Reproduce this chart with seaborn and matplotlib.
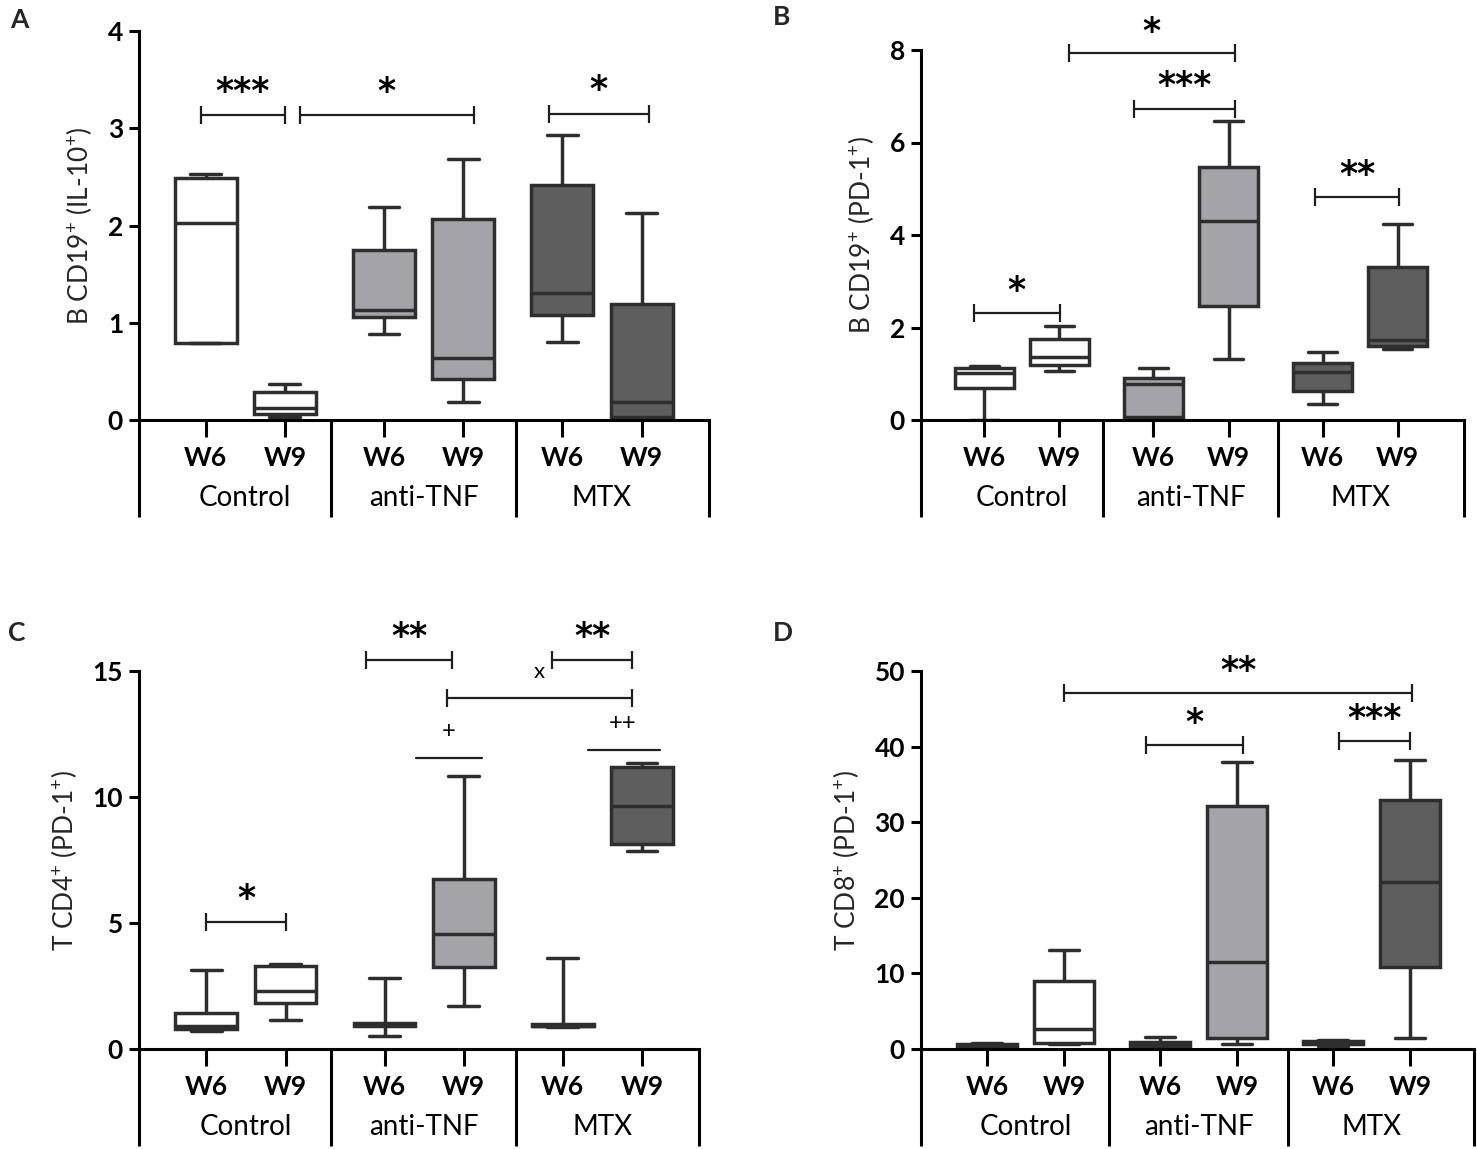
import numpy as np
import pandas as pd
import matplotlib
matplotlib.use("Agg")
import matplotlib.pyplot as plt
import matplotlib.transforms as mtransforms
import seaborn as sns

# ---------------- data (five-number summaries: min, Q1, median, Q3, max) -------------
groups = ["Control", "Control", "anti-TNF", "anti-TNF", "MTX", "MTX"]
weeks = ["W6", "W9", "W6", "W9", "W6", "W9"]
group_names = ["Control", "anti-TNF", "MTX"]

b_cd19_il10 = [
    [0.79, 0.79, 2.03, 2.49, 2.53],
    [0.035, 0.06, 0.12, 0.285, 0.37],
    [0.88, 1.06, 1.13, 1.75, 2.19],
    [0.18, 0.42, 0.64, 2.07, 2.68],
    [0.80, 1.08, 1.31, 2.42, 2.93],
    [0.01, 0.035, 0.19, 1.19, 2.125],
]
b_cd19_pd1 = [
    [0.0, 0.69, 1.02, 1.13, 1.17],
    [1.07, 1.19, 1.36, 1.75, 2.03],
    [0.02, 0.07, 0.77, 0.90, 1.13],
    [1.32, 2.47, 4.31, 5.46, 6.47],
    [0.35, 0.63, 1.03, 1.23, 1.47],
    [1.53, 1.61, 1.74, 3.31, 4.23],
]
t_cd4_pd1 = [
    [0.72, 0.80, 0.90, 1.42, 3.13],
    [1.14, 1.83, 2.32, 3.31, 3.39],
    [0.52, 0.92, 0.97, 1.02, 2.83],
    [1.72, 3.24, 4.55, 6.73, 10.84],
    [0.88, 0.90, 0.93, 0.98, 3.63],
    [7.86, 8.14, 9.63, 11.21, 11.35],
]
t_cd8_pd1 = [
    [0.05, 0.15, 0.35, 0.70, 0.80],
    [0.60, 0.83, 2.67, 8.96, 13.1],
    [0.05, 0.14, 0.50, 0.97, 1.65],
    [0.60, 1.50, 11.5, 32.2, 37.9],
    [0.45, 0.60, 0.80, 1.00, 1.15],
    [1.40, 10.9, 22.1, 32.9, 38.2],
]

panel_letters = ["A", "B", "C", "D"]
ylabels = ["B CD19$^{+}$ (IL-10$^{+}$)", "B CD19$^{+}$ (PD-1$^{+}$)",
           "T CD4$^{+}$ (PD-1$^{+}$)", "T CD8$^{+}$ (PD-1$^{+}$)"]
yticks_list = [[0, 1, 2, 3, 4], [0, 2, 4, 6, 8], [0, 5, 10, 15], [0, 10, 20, 30, 40, 50]]

# significance annotations: (x1, x2, y_bracket, label, y_label)
sig_A = [(-0.06, 1.0, 3.14, "***", 3.37), (1.19, 3.38, 3.14, "*", 3.37), (4.33, 5.59, 3.15, "*", 3.39)]
sig_B = [(-0.14, 1.01, 2.32, "*", 2.80), (1.13, 3.33, 7.94, "*", 8.39),
         (1.99, 3.33, 6.73, "***", 7.23), (4.40, 5.52, 4.82, "**", 5.30)]
sig_C = [(0.0, 1.0, 5.03, "*", 5.97), (2.02, 3.10, 15.44, "**", 16.35),
         (4.36, 5.38, 15.44, "**", 16.35), (3.04, 5.38, 13.93, None, None)]
sig_D = [(1.0, 5.53, 47.1, "**", 50.0), (2.06, 3.33, 40.2, "*", 43.1), (4.58, 5.50, 40.7, "***", 43.6)]
# extra marks in C: plain lines with symbols above
marks_C = [(2.65, 3.48, 11.55, "+", 3.06, 12.58), (4.82, 5.73, 11.87, "++", 5.26, 12.90)]
x_mark_C = (4.20, 14.96, "x")

# ---------------- layout / style -------------
positions = [0.0, 1.0, 2.25, 3.25, 4.5, 5.5]
separators = [1.58, 3.91]
palette = {"Control": "#ffffff", "anti-TNF": "#a3a2aa", "MTX": "#5e5e5e"}
edge = "#2e2e2e"

W, H = 1477, 1149
sns.set_style("white")
plt.rcParams["font.family"] = ["Lato", "DejaVu Sans"]
plt.rcParams["mathtext.fontset"] = "custom"
plt.rcParams["mathtext.rm"] = "Lato"
plt.rcParams["mathtext.it"] = "Lato:italic"
plt.rcParams["mathtext.bf"] = "Lato:bold"

fig = plt.figure(figsize=(W / 100, H / 100), dpi=100)
fig.patch.set_facecolor("white")

# axes pixel boxes: left, top, right, bottom
boxes_px = [(139, 31, 709, 420), (921, 50, 1464, 420), (139, 671, 699, 1049), (921, 671, 1474, 1049)]
xlims = [(-0.84, 6.35), (-0.84, 6.38), (-0.85, 6.22), (-0.86, 6.33)]
letter_px = [(10, 20), (773, 17), (8, 633), (773, 633)]

datasets = [b_cd19_il10, b_cd19_pd1, t_cd4_pd1, t_cd8_pd1]
sigs = [sig_A, sig_B, sig_C, sig_D]


def bracket(ax, x1, x2, y):
    ax.plot([x1, x2], [y, y], color="#1e1e1e", lw=1.6, marker="|", markersize=13,
            mew=1.6, clip_on=False, solid_capstyle="butt")


for i in range(4):
    l, t, r, b = boxes_px[i]
    ax = fig.add_axes([l / W, (H - b) / H, (r - l) / W, (b - t) / H])
    ax_h = b - t

    rows = []
    for k, stats in enumerate(datasets[i]):
        for v in stats:
            rows.append({"pos": positions[k], "group": groups[k], "value": v})
    df = pd.DataFrame(rows)

    sns.boxplot(data=df, x="pos", y="value", hue="group", hue_order=group_names,
                palette=palette, native_scale=True, whis=(0, 100), width=0.78,
                dodge=False, linecolor=edge, linewidth=2.5, fliersize=0,
                legend=False, ax=ax)

    yt = yticks_list[i]
    ax.set_ylim(0, yt[-1])
    ax.set_xlim(*xlims[i])
    ax.set_yticks(yt)
    ax.set_yticklabels([str(v) for v in yt], fontsize=19, fontweight="bold")
    ax.set_xticks(positions)
    ax.set_xticklabels(weeks, fontsize=19, fontweight="bold")
    ax.tick_params(axis="y", length=7.5, width=2.2, pad=4, colors="black", left=True)
    ax.tick_params(axis="x", length=12, width=2.2, pad=7, colors="black", bottom=True)
    ax.set_xlabel("")
    ax.set_ylabel(ylabels[i], fontsize=19, labelpad=10)
    for s in ["top", "right"]:
        ax.spines[s].set_visible(False)
    for s in ["left", "bottom"]:
        ax.spines[s].set_linewidth(2.2)
        ax.spines[s].set_color("black")

    # lines below the axis (group table)
    depth = 97 / ax_h
    trans = mtransforms.blended_transform_factory(ax.transData, ax.transAxes)
    for xv in [xlims[i][0]] + separators + [xlims[i][1]]:
        ax.plot([xv, xv], [0, -depth], color="black", lw=2.2, transform=trans,
                clip_on=False, solid_capstyle="butt")
    for g, gx in zip(group_names, [0.5, 2.75, 5.0]):
        ax.text(gx, -78 / ax_h, g, transform=trans, ha="center", va="center",
                fontsize=20, color="black")

    # significance
    for (x1, x2, yb, lab, yl) in sigs[i]:
        bracket(ax, x1, x2, yb)
        if lab:
            ax.text((x1 + x2) / 2, yl, lab, ha="center", va="center", fontsize=25,
                    fontweight="bold", family=["DejaVu Sans"], color="black",
                    clip_on=False)
    if i == 2:
        for (x1, x2, yl_line, sym, xs, ys) in marks_C:
            ax.plot([x1, x2], [yl_line, yl_line], color="#1e1e1e", lw=1.6, clip_on=False)
            ax.text(xs, ys, sym, ha="center", va="center", fontsize=17, color="black",
                    clip_on=False)
        ax.text(x_mark_C[0], x_mark_C[1], x_mark_C[2], ha="center", va="center",
                fontsize=16, color="black", clip_on=False)

    lx, ly = letter_px[i]
    fig.text(lx / W, 1 - ly / H, panel_letters[i], fontsize=19, fontweight="bold",
             ha="left", va="center")

fig.savefig("out.png", dpi=100, facecolor="white")
